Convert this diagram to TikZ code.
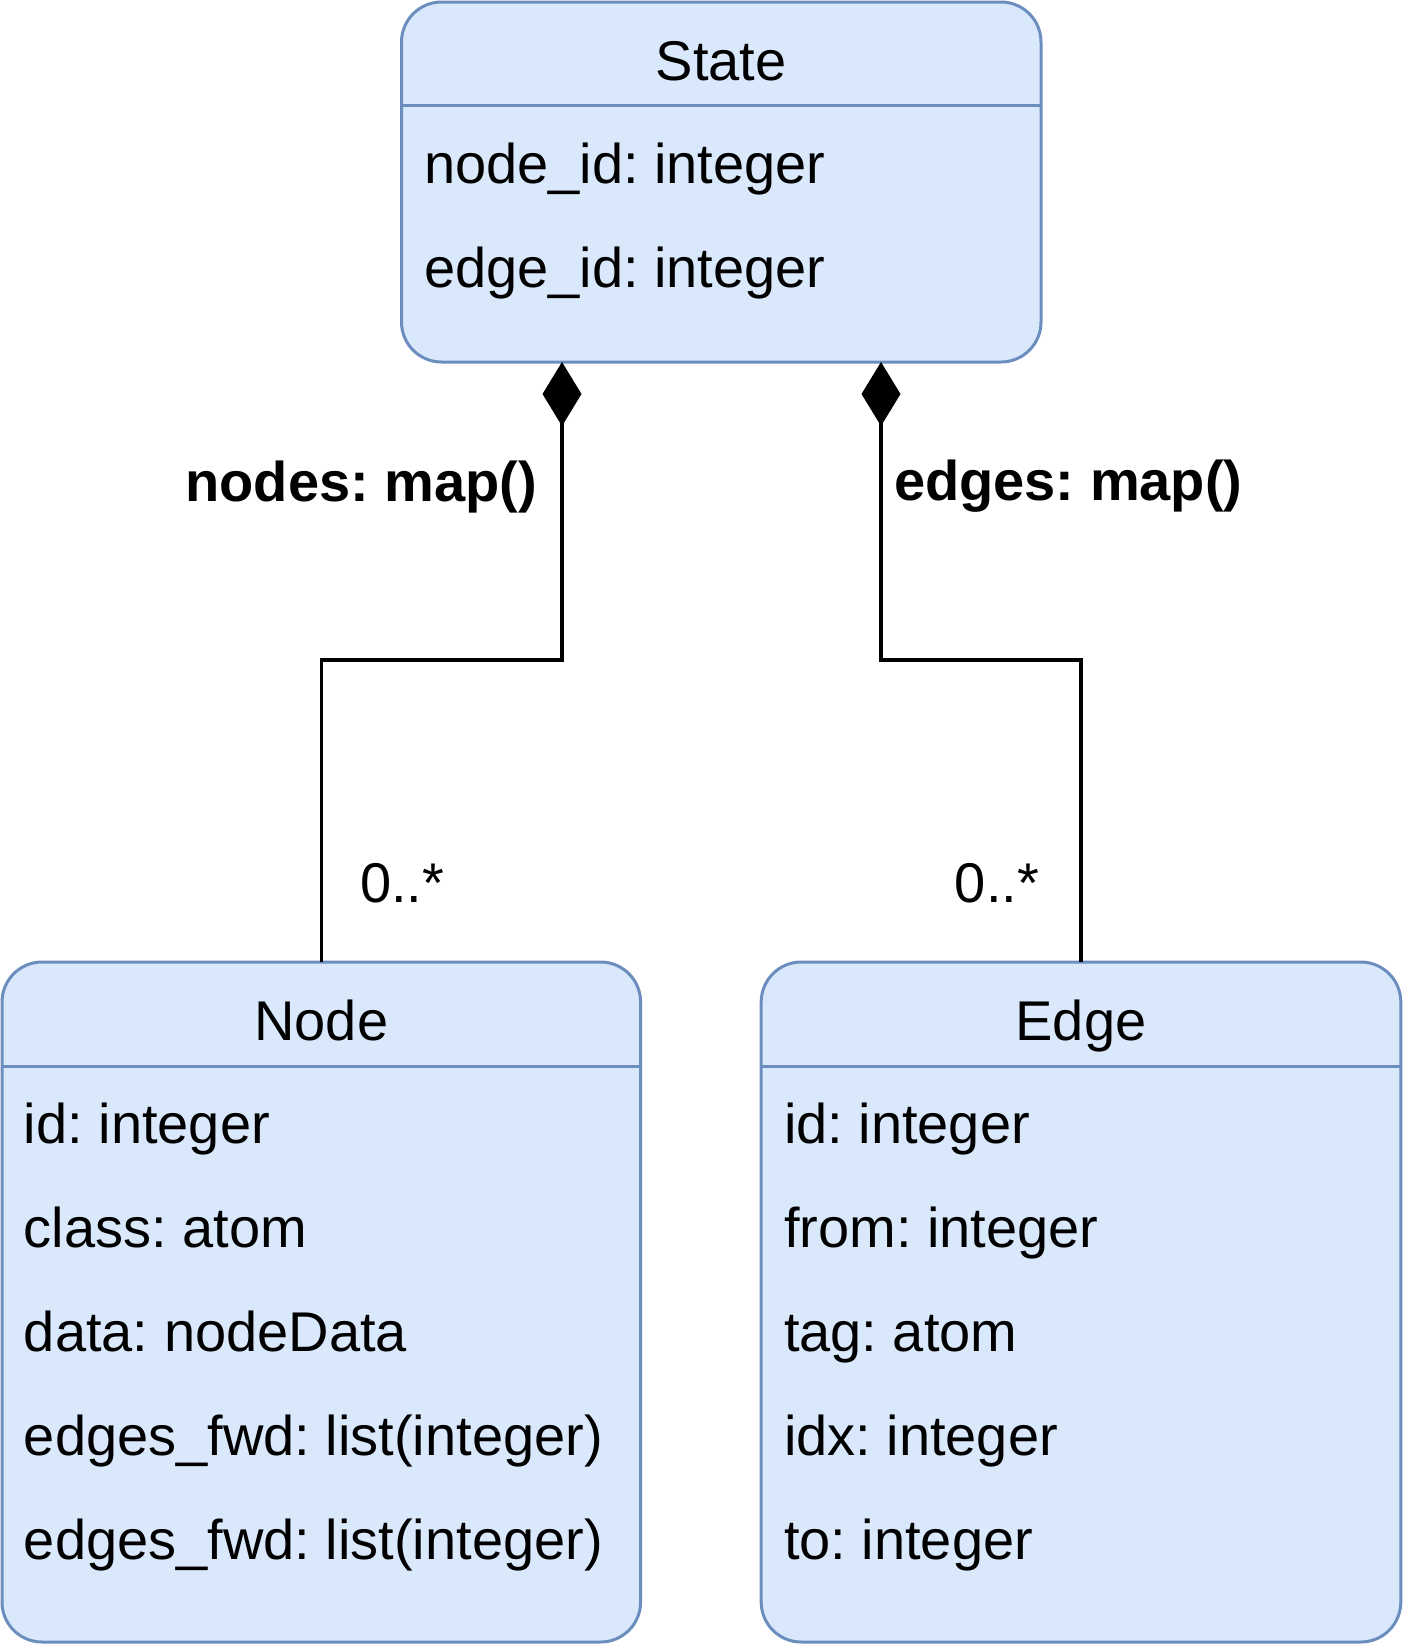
\documentclass[tikz,border=0pt]{standalone}
\usepackage{fontspec}
\setmainfont{Liberation Sans}
\usetikzlibrary{arrows.meta,calc}
\definecolor{umlfill}{HTML}{DAE8FC}
\definecolor{umlstroke}{HTML}{6C8EBF}
\frenchspacing
\begin{document}
\begin{tikzpicture}[x=0.5pt,y=-0.5pt,
  txt/.style={inner sep=0pt, outer sep=0pt, font=\frenchspacing\fontsize{28pt}{33pt}\selectfont},
  attr/.style={txt, anchor=base west},
  title/.style={txt, anchor=base},
  lbl/.style={txt, font=\frenchspacing\fontsize{28pt}{33pt}\selectfont\bfseries},
  classbox/.style={rectangle, draw=umlstroke, fill=umlfill, line width=1.5pt,
    rounded corners=20pt, inner sep=0pt, outer sep=0pt},
  divider/.style={draw=umlstroke, line width=1.5pt},
  comp/.style={draw=black, line width=1.6pt,
    -{Diamond[length=32pt, width=19.5pt, fill=black]}}
]
\useasboundingbox (0,0) rectangle (1404,1644);

% class boxes
\node[classbox, minimum width=319.75pt, minimum height=180pt] (state) at (721.25,182) {};
\node[classbox, minimum width=319.3pt, minimum height=340pt] (nodecls) at (321.3,1302) {};
\node[classbox, minimum width=319.8pt, minimum height=340pt] (edgecls) at (1081,1302) {};

% header dividers
\draw[divider] ($(state.north west)+(0,103)$) -- ($(state.north east)+(0,103)$);
\draw[divider] ($(nodecls.north west)+(0,104.5)$) -- ($(nodecls.north east)+(0,104.5)$);
\draw[divider] ($(edgecls.north west)+(0,104.5)$) -- ($(edgecls.north east)+(0,104.5)$);

% State texts
\node[title] (stateT) at (721.25,80) {State};
\node[attr] (stateA1) at (424,183) {node\_id: integer};
\node[attr] (stateA2) at (424,287) {edge\_id: integer};

% Node texts
\node[title] (nodeT) at (321.3,1040) {Node};
\node[attr] (nodeA1) at (24,1143) {id: integer};
\node[attr] (nodeA2) at (24,1247) {class: atom};
\node[attr] (nodeA3) at (24,1351) {data: nodeData};
\node[attr] (nodeA4) at (24,1455) {edges\_fwd: list(integer)};
\node[attr] (nodeA5) at (24,1559) {edges\_fwd: list(integer)};

% Edge texts
\node[title] (edgeT) at (1081,1040) {Edge};
\node[attr] (edgeA1) at (784,1143) {id: integer};
\node[attr] (edgeA2) at (784,1247) {from: integer};
\node[attr] (edgeA3) at (784,1351) {tag: atom};
\node[attr] (edgeA4) at (784,1455) {idx: integer};
\node[attr] (edgeA5) at (784,1559) {to: integer};

% connector anchor points
\path (state.south west) ++(160.5,0) coordinate (sL);
\path (state.south west) ++(479.5,0) coordinate (sR);
\coordinate (midY) at (0,660);

% composition connectors
\draw[comp] (nodecls.north) |- (sL |- midY) -- (sL);
\draw[comp] (edgecls.north) |- (sR |- midY) -- (sR);

% labels
\node[lbl, anchor=base east] (lblNodes) at (537,501.5) {nodes: map()};
\node[lbl, anchor=base west] (lblEdges) at (894,500) {edges: map()};
\node[txt, anchor=base west] (multL) at (360,902) {0..*};
\node[txt, anchor=base east] (multR) at (1039,902) {0..*};
\end{tikzpicture}
\end{document}
